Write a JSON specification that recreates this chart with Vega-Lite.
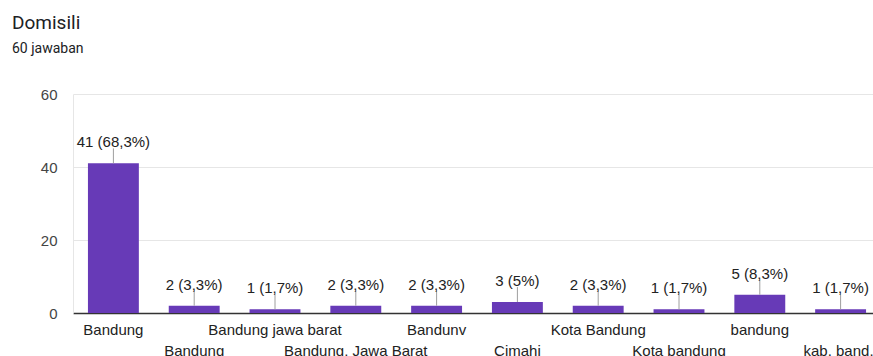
{
  "$schema": "https://vega.github.io/schema/vega-lite/v6.json",
  "autosize": "none",
  "width": 808,
  "height": 219,
  "padding": {"left": 73, "top": 94, "right": 0, "bottom": 43},
  "background": "white",
  "title": {
    "text": "Domisili",
    "subtitle": "60 jawaban",
    "anchor": "start",
    "frame": "group",
    "dx": -61,
    "offset": 31,
    "font": "Roboto",
    "fontSize": 19,
    "fontWeight": "normal",
    "color": "#202124",
    "subtitleFont": "Roboto",
    "subtitleFontSize": 14,
    "subtitleColor": "#202124",
    "subtitlePadding": 9
  },
  "data": {
    "values": [
      {"kota": "Bandung", "jumlah": 41},
      {"kota": "Bandung ", "jumlah": 2},
      {"kota": "Bandung jawa barat", "jumlah": 1},
      {"kota": "Bandung, Jawa Barat", "jumlah": 2},
      {"kota": "Bandunv", "jumlah": 2},
      {"kota": "Cimahi", "jumlah": 3},
      {"kota": "Kota Bandung", "jumlah": 2},
      {"kota": "Kota bandung", "jumlah": 1},
      {"kota": "bandung", "jumlah": 5},
      {"kota": "kab. band..", "jumlah": 1}
    ]
  },
  "transform": [
    {"joinaggregate": [{"op": "sum", "field": "jumlah", "as": "total"}]},
    {"calculate": "datum.jumlah + ' (' + replace(format(datum.jumlah / datum.total * 100, '.1~f'), '.', ',') + '%)'", "as": "label"}
  ],
  "encoding": {
    "x": {
      "field": "kota",
      "type": "nominal",
      "sort": null,
      "scale": {"paddingInner": 0.37, "paddingOuter": 0.185},
      "axis": {
        "title": null,
        "labelAngle": 0,
        "labelOverlap": false,
        "labelFont": "Liberation Sans",
        "labelFontSize": 15,
        "labelColor": "#222222",
        "labelPadding": {"condition": {"test": "round(datum.index * 9) % 2 == 1", "value": 30}, "value": 9},
        "ticks": false,
        "domainColor": "#333333",
        "domainWidth": 1.5,
        "grid": false
      }
    },
    "y": {
      "field": "jumlah",
      "type": "quantitative",
      "scale": {"domain": [0, 60], "nice": false},
      "axis": {
        "title": null,
        "values": [0, 20, 40, 60],
        "labelFont": "Liberation Sans",
        "labelFontSize": 15,
        "labelColor": "#444444",
        "labelPadding": 16,
        "ticks": false,
        "domain": true,
        "domainColor": "#e6e6e6",
        "gridColor": "#e6e6e6"
      }
    }
  },
  "layer": [
    {"mark": {"type": "bar", "color": "#673ab7"}},
    {
      "mark": {"type": "rule", "color": "#9e9e9e", "strokeWidth": 1, "y2Offset": -15},
      "encoding": {"y2": {"field": "jumlah"}}
    },
    {
      "mark": {"type": "text", "font": "Liberation Sans", "fontSize": 15, "color": "#222222", "baseline": "alphabetic", "dy": -16},
      "encoding": {"text": {"field": "label"}}
    }
  ],
  "config": {"view": {"stroke": null}}
}
